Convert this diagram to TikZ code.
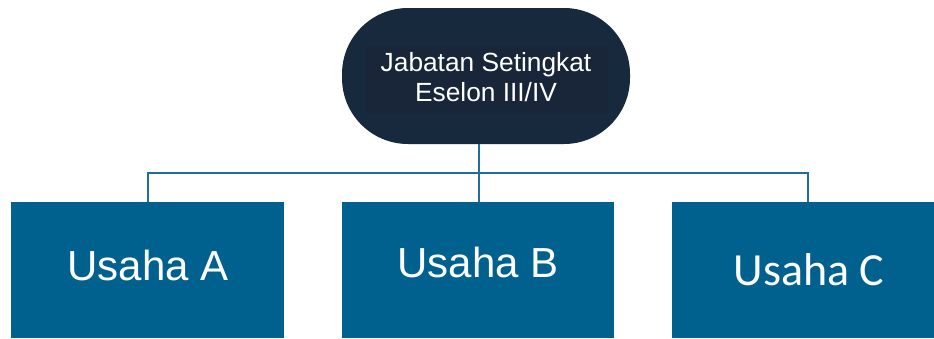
\documentclass[tikz,border=0pt]{standalone}
\usepackage{fontspec}
\setmainfont{Liberation Sans}
\newfontfamily\calib{Carlito}
\definecolor{navy}{HTML}{17293D}
\definecolor{navyin}{HTML}{19263A}
\definecolor{boxblue}{HTML}{00618F}
\definecolor{linkblue}{HTML}{1F6E9E}
\begin{document}
\begin{tikzpicture}[x=1pt,y=-1pt,
  unit/.style={fill=boxblue,draw=none,minimum width=273pt,minimum height=136pt,inner sep=0pt,anchor=north west},
  utext/.style={text=white,font=\fontsize{42}{48}\selectfont,inner sep=0pt},
  conn/.style={draw=linkblue,line width=2pt}]
\useasboundingbox[fill=white] (0,0) rectangle (934,338);
\node[fill=navy,minimum width=288pt,minimum height=136pt,rounded corners=66pt,inner sep=0pt] (top) at (486,76) {};
\node[fill=navyin,minimum width=243pt,minimum height=66pt,inner sep=0pt] (topin) at (486,80) {};
\node[text=white,align=center,font=\fontsize{26.3}{29.5}\selectfont,inner sep=0pt] (toptext) at (486,77) {Jabatan Setingkat\\Eselon III/IV};
\node[unit] (A) at (11,202) {};
\node[unit,minimum width=272pt] (B) at (342,202) {};
\node[unit,minimum width=262pt] (C) at (672,202) {};
\node[utext] (ta) at (148,265) {Usaha A};
\node[utext] (tb) at (478,262) {Usaha B};
\node[utext,font=\calib\fontsize{46}{50}\selectfont] (tc) at (809,270) {Usaha C};
\coordinate (bar) at (479,173);
\draw[conn] (479,202) -- (479,144);
\draw[conn] (148,202) -- (148,173) -- (808,173) -- (808,202);
\end{tikzpicture}
\end{document}
